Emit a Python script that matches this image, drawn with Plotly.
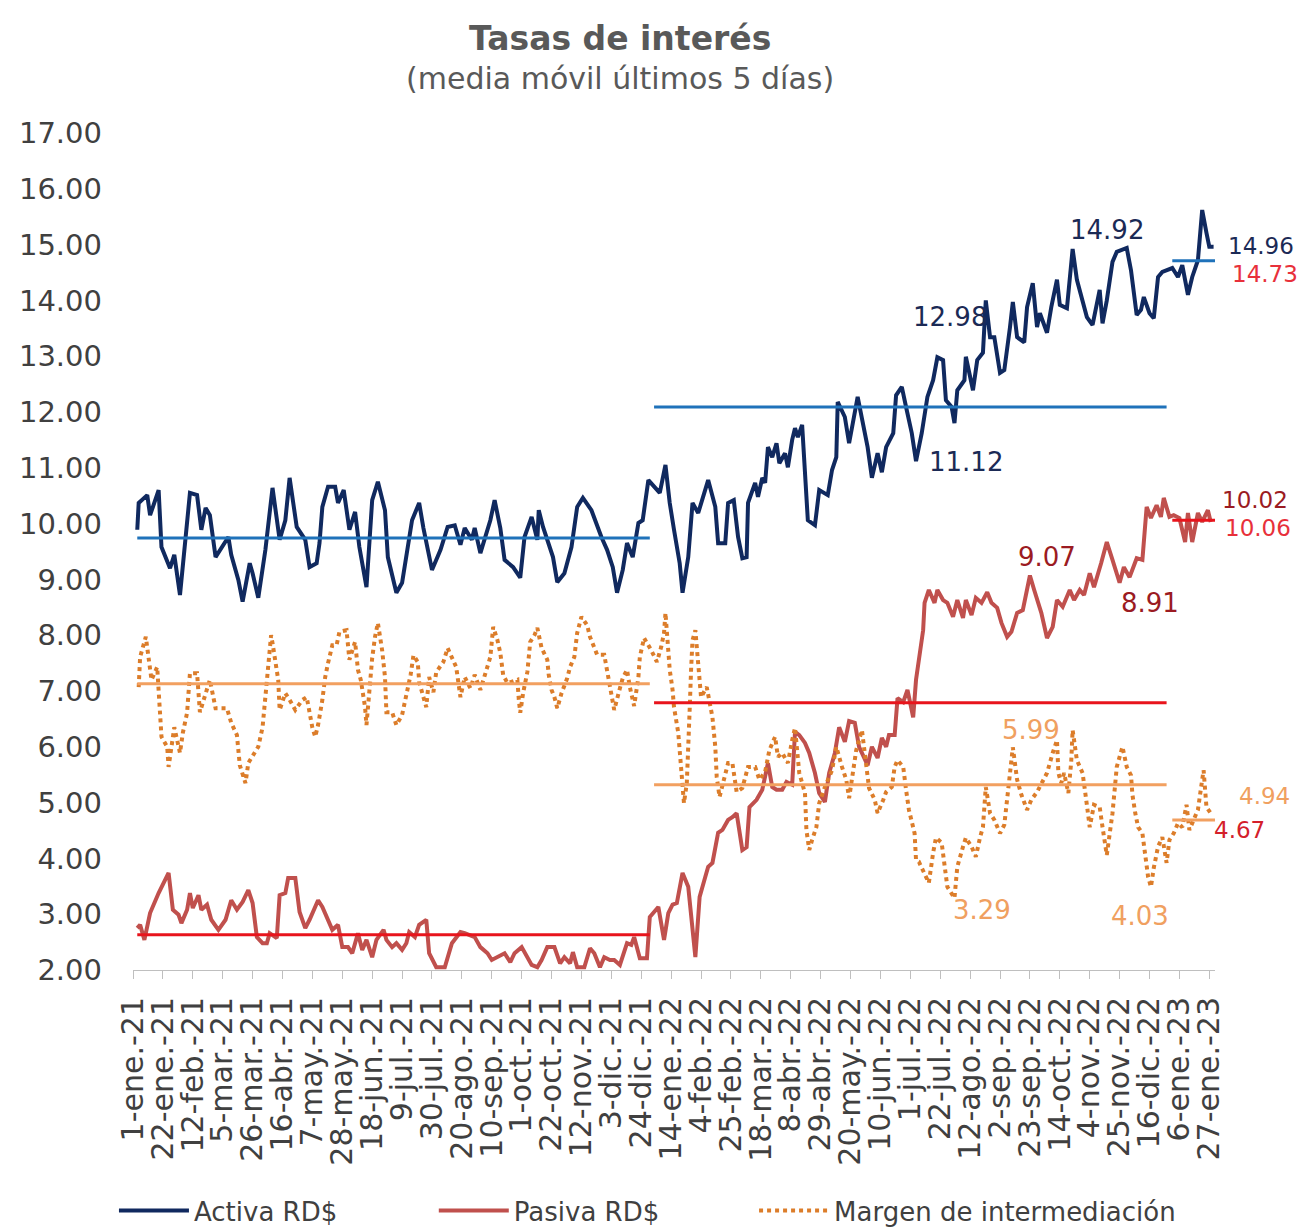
import plotly.graph_objects as go
import pandas as pd

# dias desde 1-ene-21 y valores
activa_dia = [3, 4, 10, 12, 18, 20, 26, 29, 33, 40, 45, 48, 51, 54, 58, 67, 69, 74, 77, 82, 84, 88, 93, 98,
              103, 107, 110, 115, 121, 124, 129, 131, 133, 137, 142, 144, 148, 152, 156, 159, 164, 168, 172,
              177, 179, 185, 189, 196, 201, 204, 210, 216, 221, 226, 230, 233, 238, 240, 244, 251, 254, 258,
              261, 267, 272, 275, 280, 284, 285, 288, 295, 298, 303, 308, 312, 316, 322, 326, 329, 333, 337,
              340, 344, 347, 351, 355, 358, 362, 370, 374, 377, 380, 384, 386, 390, 393, 397, 404, 409, 411,
              416, 418, 422, 425, 428, 431, 432, 437, 439, 442, 444, 446, 449, 452, 454, 458, 460, 463, 465,
              467, 470, 474, 479, 482, 488, 491, 494, 495, 500, 503, 509, 516, 519, 523, 526, 529, 534, 536,
              540, 543, 547, 550, 554, 558, 562, 565, 569, 571, 575, 577, 579, 584, 585, 590, 593, 597, 599,
              602, 605, 609, 612, 616, 618, 621, 626, 628, 632, 635, 637, 642, 645, 649, 651, 656, 660, 663,
              670, 674, 679, 681, 684, 688, 691, 698, 701, 705, 708, 710, 714, 717, 720, 723, 730, 734, 737,
              741, 744, 748, 751, 754, 756, 759]
activa_val = [9.89, 10.37, 10.51, 10.15, 10.6, 9.58, 9.2, 9.44, 8.72, 10.55, 10.51, 9.89, 10.28, 10.15, 9.4,
              9.76, 9.44, 8.99, 8.6, 9.29, 9.11, 8.67, 9.53, 10.64, 9.71, 10.06, 10.82, 9.94, 9.71, 9.22, 9.29,
              9.65, 10.3, 10.66, 10.66, 10.37, 10.6, 9.89, 10.21, 9.58, 8.86, 10.42, 10.75, 10.24, 9.4, 8.76,
              8.94, 10.06, 10.37, 9.92, 9.17, 9.53, 9.94, 9.97, 9.62, 9.92, 9.71, 9.92, 9.47, 10.06, 10.42,
              9.92, 9.35, 9.22, 9.03, 9.76, 10.12, 9.71, 10.24, 9.94, 9.4, 8.95, 9.11, 9.58, 10.3, 10.46,
              10.24, 9.94, 9.76, 9.53, 9.22, 8.76, 9.17, 9.65, 9.4, 10.01, 10.06, 10.78, 10.55, 11.05, 10.37,
              9.89, 9.29, 8.76, 9.4, 10.37, 10.19, 10.78, 10.3, 9.65, 9.65, 10.37, 10.42, 9.76, 9.38, 9.4,
              10.37, 10.73, 10.48, 10.82, 10.73, 11.37, 11.19, 11.44, 11.08, 11.26, 11.01, 11.5, 11.71, 11.55,
              11.77, 10.06, 9.97, 10.6, 10.51, 10.96, 11.19, 12.18, 11.91, 11.44, 12.27, 11.37, 10.82, 11.26,
              10.92, 11.37, 11.62, 12.3, 12.45, 12.09, 11.62, 11.12, 11.62, 12.27, 12.57, 12.98, 12.93, 12.21,
              12.09, 11.8, 12.39, 12.57, 12.99, 12.39, 12.93, 13.06, 14.0, 13.34, 13.34, 12.7, 12.75, 13.52,
              13.97, 13.34, 13.25, 13.88, 14.31, 13.52, 13.77, 13.42, 13.88, 14.37, 13.92, 13.86, 14.92,
              14.37, 13.7, 13.56, 14.19, 13.59, 14.0, 14.69, 14.87, 14.94, 14.54, 13.74, 13.83, 14.06, 13.77,
              13.68, 14.42, 14.51, 14.58, 14.42, 14.63, 14.1, 14.42, 14.72, 15.62, 15.21, 14.96, 14.96]

pasiva_dia = [3, 5, 8, 12, 18, 21, 25, 28, 32, 34, 38, 40, 42, 46, 48, 52, 55, 60, 65, 69, 73, 77, 81, 84,
              87, 91, 94, 96, 101, 103, 107, 109, 114, 117, 121, 124, 130, 133, 140, 144, 147, 151, 154, 158,
              161, 164, 168, 171, 176, 178, 182, 185, 189, 192, 194, 198, 201, 206, 208, 213, 219, 224, 230,
              233, 240, 244, 249, 252, 256, 261, 265, 268, 273, 280, 284, 287, 291, 296, 300, 303, 307, 309,
              312, 317, 321, 324, 328, 331, 335, 338, 342, 347, 350, 352, 356, 361, 363, 369, 373, 376, 379,
              382, 386, 390, 395, 398, 402, 404, 407, 411, 414, 418, 421, 424, 428, 431, 433, 438, 442, 446,
              449, 452, 456, 459, 463, 465, 468, 472, 475, 479, 482, 486, 489, 493, 496, 500, 503, 507, 510,
              514, 516, 519, 523, 526, 529, 531, 535, 537, 541, 544, 548, 550, 552, 555, 556, 559, 563, 565,
              569, 572, 576, 579, 583, 585, 589, 592, 596, 600, 603, 607, 610, 614, 617, 621, 625, 630, 633,
              638, 642, 646, 649, 653, 658, 661, 665, 668, 672, 675, 680, 684, 688, 693, 696, 700, 705, 709,
              712, 715, 719, 722, 724, 728, 731, 735, 739, 741, 744, 748, 751, 755, 757]
pasiva_val = [2.75, 2.81, 2.54, 3.02, 3.38, 3.52, 3.74, 3.08, 2.99, 2.84, 3.08, 3.38, 3.11, 3.34, 3.08, 3.17,
              2.9, 2.72, 2.9, 3.25, 3.08, 3.22, 3.43, 3.2, 2.59, 2.48, 2.48, 2.66, 2.57, 3.34, 3.38, 3.65,
              3.65, 3.04, 2.75, 2.9, 3.25, 3.13, 2.72, 2.81, 2.41, 2.41, 2.3, 2.66, 2.36, 2.54, 2.23, 2.54,
              2.72, 2.54, 2.41, 2.48, 2.36, 2.48, 2.68, 2.59, 2.81, 2.9, 2.3, 2.05, 2.05, 2.48, 2.68, 2.66,
              2.59, 2.41, 2.3, 2.18, 2.23, 2.3, 2.14, 2.3, 2.41, 2.09, 2.05, 2.18, 2.41, 2.41, 2.12, 2.23,
              2.12, 2.32, 2.05, 2.05, 2.39, 2.3, 2.05, 2.23, 2.18, 2.18, 2.09, 2.48, 2.45, 2.59, 2.21, 2.21,
              2.95, 3.13, 2.54, 3.02, 3.17, 3.2, 3.74, 3.49, 2.23, 3.31, 3.67, 3.85, 3.92, 4.46, 4.51, 4.69,
              4.74, 4.81, 4.15, 4.2, 4.92, 5.05, 5.23, 5.71, 5.28, 5.23, 5.23, 5.37, 5.32, 6.27, 6.21, 6.07,
              5.89, 5.53, 5.17, 5.01, 5.53, 5.89, 6.35, 6.09, 6.46, 6.43, 6.0, 5.76, 5.67, 6.0, 5.8, 6.16, 6.0,
              6.21, 6.21, 6.87, 6.8, 7.02, 6.53, 7.2, 7.61, 8.09, 8.58, 8.81, 8.58, 8.81, 8.63, 8.58, 8.33,
              8.63, 8.31, 8.63, 8.36, 8.67, 8.58, 8.77, 8.58, 8.49, 8.22, 7.97, 8.06, 8.4, 8.45, 9.07, 8.81,
              8.4, 7.95, 8.15, 8.63, 8.51, 8.81, 8.63, 8.81, 8.72, 9.11, 8.86, 9.29, 9.67, 9.35, 8.94, 9.22,
              9.04, 9.38, 9.35, 10.3, 10.1, 10.33, 10.12, 10.46, 10.12, 10.15, 10.1, 9.67, 10.19, 9.67, 10.19,
              10.03, 10.24, 10.03]

margen_dia = [4, 5, 9, 11, 13, 17, 18, 20, 24, 25, 29, 33, 35, 38, 40, 45, 47, 52, 54, 58, 66, 69, 73, 75,
              77, 79, 81, 84, 88, 91, 93, 95, 97, 98, 102, 103, 107, 110, 114, 119, 122, 124, 126, 128, 130,
              133, 135, 137, 140, 143, 145, 150, 152, 156, 158, 160, 163, 164, 166, 168, 170, 172, 175, 177,
              178, 182, 185, 189, 192, 195, 197, 200, 201, 205, 206, 208, 211, 213, 218, 221, 224, 227, 230,
              233, 237, 240, 244, 247, 251, 253, 256, 258, 260, 263, 270, 271, 272, 274, 277, 279, 282, 284,
              287, 291, 292, 294, 296, 298, 301, 305, 307, 310, 312, 315, 319, 321, 323, 326, 331, 333, 336,
              338, 342, 344, 347, 349, 352, 355, 356, 359, 364, 368, 371, 373, 374, 376, 377, 379, 380, 383,
              384, 385, 387, 389, 390, 391, 392, 393, 395, 397, 399, 403, 405, 407, 409, 410, 412, 416, 418,
              421, 424, 428, 432, 437, 440, 444, 447, 451, 453, 456, 460, 463, 465, 468, 472, 473, 475, 477,
              480, 482, 486, 491, 494, 498, 501, 503, 508, 512, 515, 517, 521, 523, 527, 529, 533, 535, 537,
              541, 543, 545, 549, 550, 552, 556, 559, 562, 564, 568, 570, 572, 577, 579, 583, 585, 589, 592,
              595, 597, 599, 602, 605, 609, 612, 614, 616, 618, 621, 624, 628, 631, 635, 639, 642, 646, 649,
              650, 652, 654, 657, 659, 660, 663, 667, 670, 672, 675, 679, 681, 684, 688, 690, 691, 695, 698,
              701, 702, 704, 706, 709, 711, 713, 715, 717, 720, 723, 726, 728, 731, 734, 737, 740, 742, 746,
              748, 751, 752, 754, 757]
margen_val = [7.07, 7.61, 7.97, 7.59, 7.2, 7.43, 6.89, 6.18, 6.0, 5.64, 6.35, 5.89, 6.25, 6.61, 7.32, 7.32,
              6.62, 7.07, 7.2, 6.69, 6.69, 6.43, 6.21, 5.67, 5.49, 5.35, 5.71, 5.85, 6.0, 6.35, 6.89, 7.43,
              8.0, 7.86, 7.2, 6.66, 6.96, 6.84, 6.66, 6.84, 6.89, 6.62, 6.34, 6.18, 6.39, 6.84, 7.25, 7.5,
              7.82, 7.82, 8.06, 8.09, 7.56, 7.88, 7.38, 7.2, 6.71, 6.39, 7.02, 7.59, 7.97, 8.22, 7.73, 7.25,
              6.62, 6.62, 6.39, 6.57, 6.93, 7.29, 7.64, 7.52, 7.16, 6.84, 6.71, 7.25, 6.98, 7.34, 7.52, 7.77,
              7.59, 7.43, 6.89, 7.25, 7.05, 7.29, 7.02, 7.25, 7.61, 8.15, 7.91, 7.68, 7.29, 7.14, 7.2, 6.84,
              6.61, 6.96, 7.34, 7.88, 8.0, 8.13, 7.77, 7.56, 7.29, 7.02, 6.89, 6.69, 6.96, 7.23, 7.43, 7.61,
              8.04, 8.33, 8.18, 7.97, 7.82, 7.65, 7.65, 7.38, 7.02, 6.66, 7.05, 7.23, 7.38, 7.07, 6.73, 7.25,
              7.61, 7.95, 7.73, 7.52, 7.79, 8.04, 8.4, 7.73, 7.38, 7.02, 6.71, 6.25, 5.89, 5.53, 4.99, 5.35,
              5.89, 6.66, 7.38, 7.91, 8.09, 7.43, 6.89, 7.07, 6.78, 6.53, 6.0, 5.46, 5.1, 5.53, 5.71, 5.71,
              5.19, 5.26, 5.64, 5.64, 5.41, 5.55, 5.94, 6.18, 5.82, 5.89, 5.71, 6.12, 6.34, 5.53, 5.17, 4.51,
              4.15, 4.33, 4.56, 4.99, 5.28, 5.58, 6.0, 5.64, 5.41, 5.08, 5.94, 6.3, 5.64, 5.26, 5.05, 4.81,
              5.05, 5.19, 5.28, 5.64, 5.76, 5.64, 5.23, 4.87, 4.45, 3.97, 3.94, 3.74, 3.56, 4.1, 4.37, 4.28,
              3.85, 3.49, 3.29, 3.85, 4.21, 4.37, 4.21, 4.03, 4.38, 4.56, 5.28, 4.81, 4.69, 4.45, 4.6, 5.1,
              5.53, 5.99, 5.41, 5.14, 4.87, 5.05, 5.19, 5.37, 5.53, 5.89, 6.12, 5.53, 5.35, 5.53, 5.17, 5.73,
              6.3, 5.76, 5.53, 4.96, 4.56, 4.96, 4.92, 4.56, 4.06, 4.81, 5.46, 5.64, 6.0, 5.64, 5.49, 5.14,
              4.81, 4.56, 4.45, 4.03, 3.67, 3.49, 3.83, 4.21, 4.38, 3.92, 4.33, 4.45, 4.63, 4.56, 4.96, 4.51,
              4.74, 4.87, 5.41, 5.58, 4.92, 4.81]

# promedios por periodo
periodos = [("2021-01-04", "2021-12-30"), ("2022-01-02", "2022-12-28"), ("2023-01-01", "2023-01-31")]
prom_activa = [9.74, 12.09, 14.71]
prom_pasiva = [2.63, 6.79, 10.06]
prom_margen = [7.13, 5.32, 4.69]

meses = ["ene", "feb", "mar", "abr", "may", "jun", "jul", "ago", "sep", "oct", "nov", "dic"]

inicio = pd.Timestamp("2021-01-01")


def fechas(dias):
    return inicio + pd.to_timedelta(dias, unit="D")


C_ACT = "#10295f"
C_PAS = "#c0504d"
C_MAR = "#dc7d2a"
C_ACT_P = "#1f72ba"
C_PAS_P = "#e8141c"
C_MAR_P = "#f2a060"
FONT = "DejaVu Sans"
GRIS = "#404040"

fig = go.Figure()
fig.add_trace(go.Scatter(x=fechas(activa_dia), y=activa_val, mode="lines", name="Activa RD$",
                         legend="legend", line=dict(color=C_ACT, width=4)))
fig.add_trace(go.Scatter(x=fechas(pasiva_dia), y=pasiva_val, mode="lines", name="Pasiva RD$",
                         legend="legend2", line=dict(color=C_PAS, width=4)))
fig.add_trace(go.Scatter(x=fechas(margen_dia), y=margen_val, mode="lines", name="Margen de intermediación",
                         legend="legend3", line=dict(color=C_MAR, width=4, dash="4px,4px")))

for proms, color in [(prom_activa, C_ACT_P), (prom_pasiva, C_PAS_P), (prom_margen, C_MAR_P)]:
    for (a, b), v in zip(periodos, proms):
        fig.add_trace(go.Scatter(x=[a, b], y=[v, v], mode="lines", showlegend=False,
                                 hoverinfo="skip", line=dict(color=color, width=3)))

tick_fechas = pd.date_range("2021-01-01", "2023-01-27", freq="21D")
tick_text = [f"{d.day}-{meses[d.month - 1]}.-{d.year % 100:02d}" for d in tick_fechas]

# etiquetas de valores dentro del grafico (texto, dia, valor, color)
etiquetas = [
    ("14.92", 684, 15.26, "#1b2a55"),
    ("12.98", 574, 13.70, "#1b2a55"),
    ("11.12", 585, 11.10, "#1b2a55"),
    ("9.07", 642, 9.40, "#9b1b22"),
    ("8.91", 714, 8.58, "#9b1b22"),
    ("5.99", 631, 6.30, "#f0a060"),
    ("3.29", 596, 3.08, "#f0a060"),
    ("4.03", 707, 2.97, "#f0a060"),
]
# etiquetas a la derecha (texto, x papel, valor, color)
etiquetas_der = [
    ("14.96", 1.010, 14.98, "#1b2a55"),
    ("14.73", 1.014, 14.47, "#e8303a"),
    ("10.02", 1.005, 10.43, "#9b1b22"),
    ("10.06", 1.007, 9.92, "#e8303a"),
    ("4.94", 1.020, 5.12, "#f0a060"),
    ("4.67", 0.997, 4.51, "#d4202a"),
]

anns = []
for t, d, v, c in etiquetas:
    anns.append(dict(text=t, x=inicio + pd.Timedelta(days=d), y=v, xref="x", yref="y", showarrow=False,
                     font=dict(size=26, color=c, family=FONT)))
for t, px_, v, c in etiquetas_der:
    anns.append(dict(text=t, x=px_, y=v, xref="paper", yref="y", showarrow=False, xanchor="left",
                     font=dict(size=23, color=c, family=FONT)))
anns.append(dict(text="<b>Tasas de interés</b>", x=0.45, y=1.1135, xref="paper", yref="paper",
                 xanchor="center", yanchor="middle", showarrow=False,
                 font=dict(size=33, color="#595959", family=FONT)))
anns.append(dict(text="(media móvil últimos 5 días)", x=0.45, y=1.0657, xref="paper", yref="paper",
                 xanchor="center", yanchor="middle", showarrow=False,
                 font=dict(size=30, color="#595959", family=FONT)))

leg = dict(orientation="h", xanchor="left", yref="container", y=0.0135, yanchor="middle",
           font=dict(size=26, color=GRIS), itemwidth=70, bgcolor="rgba(0,0,0,0)")

fig.update_layout(
    width=1297, height=1219,
    margin=dict(l=125, r=90, t=125, b=257),
    paper_bgcolor="white", plot_bgcolor="white",
    font=dict(family=FONT, color=GRIS),
    annotations=anns,
    legend=dict(leg, x=-0.0176),
    legend2=dict(leg, x=0.278),
    legend3=dict(leg, x=0.574),
    xaxis=dict(range=[inicio, inicio + pd.Timedelta(days=760)], tickvals=tick_fechas, ticktext=tick_text,
               tickangle=-90, tickfont=dict(size=30, color=GRIS), showgrid=False, showline=True,
               linecolor="#bfbfbf", linewidth=1, ticks="outside", ticklen=8, tickcolor="#bfbfbf",
               zeroline=False, ticklabelstandoff=6),
    yaxis=dict(range=[2, 17], dtick=1, tickformat=".2f", tickfont=dict(size=29, color=GRIS),
               showgrid=False, zeroline=False, showline=False, ticklabelstandoff=30),
)

fig.write_html("out.html")
